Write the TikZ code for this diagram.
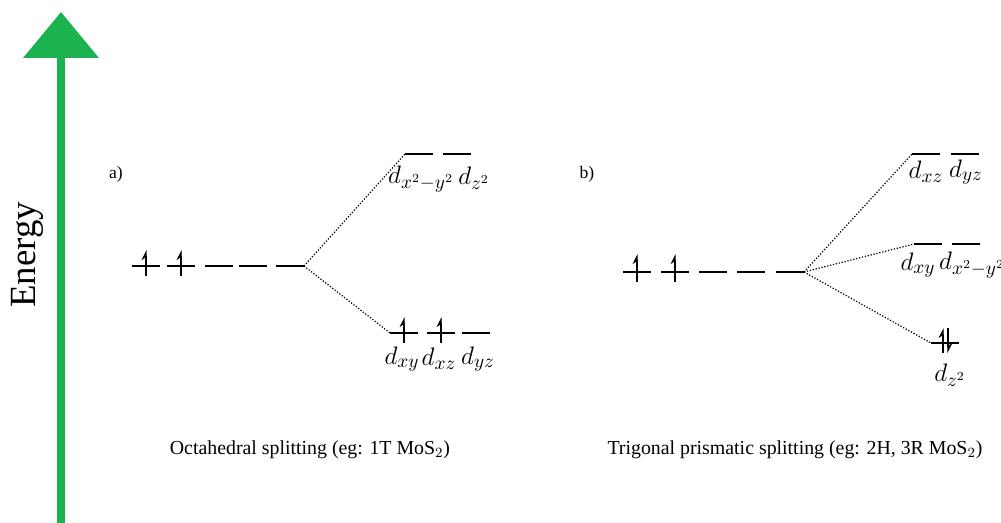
\documentclass[tikz,border=0pt]{standalone}
\usepackage{fontspec}
\setmainfont{Liberation Serif}
\usetikzlibrary{calc,arrows.meta}

\definecolor{energygreen}{RGB}{28,178,80}

\tikzset{
	level/.style={minimum width=0.56cm, minimum height=0pt, inner sep=0pt, outer sep=0pt},
	lvl/.style={line width=0.7pt},
	split/.style={densely dotted, line width=0.7pt},
	spinup/.style={line width=0.7pt, -{Stealth[left, length=5pt, width=5pt]}},
	orb/.style={font=\fontsize{15}{18}\selectfont},
	caption/.style={font=\fontsize{11.3}{13}\selectfont}
}

\begin{document}
\begin{tikzpicture}[x=0.02cm, y=-0.02cm]
	\useasboundingbox (0,0) rectangle (1001,523);

	% energy axis
	\coordinate (E0) at (61,523);
	\coordinate (E1) at (61,12);
	\draw[energygreen, line width=0.16cm, -{Triangle[length=0.92cm, width=1.48cm]}] (E0) -- (E1);
	\node[rotate=90, font=\fontsize{21}{25}\selectfont] at (27,255) (En) {Energy};

	% a) octahedral
	\node at (116,174) (La) {a)};
	\node[level] at (146,266) (A1) {};
	\node[level] at (181,266) (A2) {};
	\node[level] at (219,266) (A3) {};
	\node[level] at (253,266) (A4) {};
	\node[level] at (290,266) (A5) {};
	\node[level] at (419,154) (AU1) {};
	\node[level] at (457,154) (AU2) {};
	\node[level] at (404,333) (AL1) {};
	\node[level] at (441,333) (AL2) {};
	\node[level] at (476,333) (AL3) {};
	\foreach \n in {A1,A2,A3,A4,A5,AU1,AU2,AL1,AL2,AL3}
		\draw[lvl] (\n.west) -- (\n.east);
	\draw[split] (A5.east) -- (AU1.west);
	\draw[split] (A5.east) -- (AL1.west);
	\foreach \n in {A1,A2,AL1,AL2}
		\draw[spinup] ($(\n.center)+(0,10)$) -- ($(\n.center)+(0,-16)$);
	\node[orb] at (421,179) (dA1) {$d_{x^2-y^2}$};
	\node[orb] at (474,178) (dA2) {$d_{z^2}$};
	\node[orb] at (402,359) (dA3) {$d_{xy}$};
	\node[orb] at (439,359) (dA4) {$d_{xz}$};
	\node[orb] at (478,359) (dA5) {$d_{yz}$};
	\node[caption] at (310,450) (Ca) {Octahedral splitting (eg: 1T MoS$_2$)};

	% b) trigonal prismatic
	\node at (587,174) (Lb) {b)};
	\node[level] at (637,272) (B1) {};
	\node[level] at (675,272) (B2) {};
	\node[level] at (713,272) (B3) {};
	\node[level] at (751,272) (B4) {};
	\node[level] at (790,272) (B5) {};
	\node[level] at (926,154) (BU1) {};
	\node[level] at (965,154) (BU2) {};
	\node[level] at (928,244) (BM1) {};
	\node[level] at (966,244) (BM2) {};
	\node[level] at (945,343) (BL1) {};
	\foreach \n in {B1,B2,B3,B4,B5,BU1,BU2,BM1,BM2,BL1}
		\draw[lvl] (\n.west) -- (\n.east);
	\draw[split] (B5.east) -- (BU1.west);
	\draw[split] (B5.east) -- (BM1.west);
	\draw[split] (B5.east) -- (BL1.west);
	\foreach \n in {B1,B2}
		\draw[spinup] ($(\n.center)+(0,10)$) -- ($(\n.center)+(0,-18)$);
	\draw[spinup] ($(BL1.center)+(-2,10)$) -- ($(BL1.center)+(-2,-15)$);
	\draw[spinup] ($(BL1.center)+(3,-15)$) -- ($(BL1.center)+(3,10)$);
	\node[orb] at (926,172) (dB1) {$d_{xz}$};
	\node[orb] at (966,172) (dB2) {$d_{yz}$};
	\node[orb] at (918,265) (dB3) {$d_{xy}$};
	\node[orb] at (972,265) (dB4) {$d_{x^2-y^2}$};
	\node[orb] at (950,375) (dB5) {$d_{z^2}$};
	\node[caption] at (795,450) (Cb) {Trigonal prismatic splitting (eg: 2H, 3R MoS$_2$)};
\end{tikzpicture}
\end{document}
